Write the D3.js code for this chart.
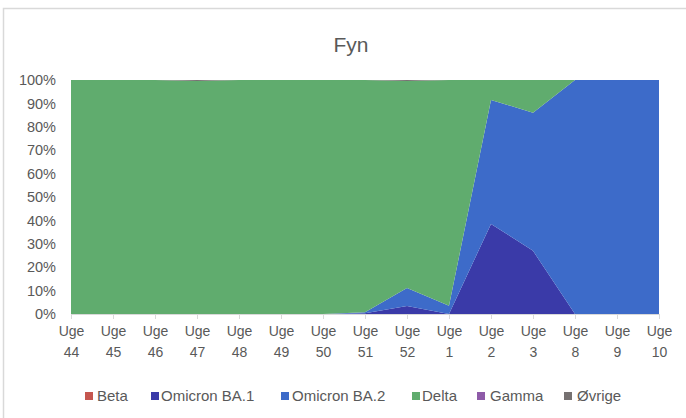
<!DOCTYPE html>
<html>
<head>
<meta charset="utf-8">
<script src="https://cdn.jsdelivr.net/npm/d3@7"></script>
<style>
  body { margin: 0; background: #fff; }
  text { font-family: "Liberation Sans", Arial, sans-serif; fill: #595959; }
</style>
</head>
<body>
<div id="wrapper"></div>
<script>
const weeks = ["44", "45", "46", "47", "48", "49", "50", "51", "52", "1", "2", "3", "8", "9", "10"]
const beta     = [0, 0, 0, 0, 0, 0, 0, 0, 0, 0, 0, 0, 0, 0, 0]
const omiBA1   = [0, 0, 0, 0, 0, 0, 0, 0.3, 3.4, 0, 38.5, 27, 0, 0, 0]
const omiBA2   = [0, 0, 0, 0, 0, 0, 0, 0.5, 7.7, 3.5, 53, 59, 100, 100, 100]
const delta    = [100, 100, 100, 99.6, 100, 100, 100, 99.2, 88.5, 96.5, 8.5, 14, 0, 0, 0]
const gamma    = [0, 0, 0, 0, 0, 0, 0, 0, 0, 0, 0, 0, 0, 0, 0]
const ovrige   = [0, 0, 0, 0.4, 0, 0, 0, 0, 0.4, 0, 0, 0, 0, 0, 0]
const yTicks = [0, 10, 20, 30, 40, 50, 60, 70, 80, 90, 100]

const seriesDefs = [
  { key: "Beta", values: beta, color: "#c5564f" },
  { key: "Omicron BA.1", values: omiBA1, color: "#3a3aa8" },
  { key: "Omicron BA.2", values: omiBA2, color: "#3d6bc9" },
  { key: "Delta", values: delta, color: "#60ac6e" },
  { key: "Gamma", values: gamma, color: "#8e5ba8" },
  { key: "Øvrige", values: ovrige, color: "#767171" },
]

const table = weeks.map((w, i) => {
  const row = { week: w }
  seriesDefs.forEach(s => row[s.key] = s.values[i])
  return row
})

const dimensions = {
  width: 686,
  height: 418,
  margin: { top: 80, right: 27, bottom: 104, left: 71 },
}
dimensions.boundedWidth = dimensions.width - dimensions.margin.left - dimensions.margin.right
dimensions.boundedHeight = dimensions.height - dimensions.margin.top - dimensions.margin.bottom

const svg = d3.select("#wrapper")
  .append("svg")
    .attr("width", dimensions.width)
    .attr("height", dimensions.height)

// chart frame (only the top/left edges fall inside the picture)
svg.append("rect")
  .attr("x", 3.5).attr("y", 8.5)
  .attr("width", 700).attr("height", 430)
  .attr("fill", "none")
  .attr("stroke", "#d9d9d9")
  .attr("stroke-width", 1.5)

svg.append("text")
  .attr("x", 351).attr("y", 52)
  .attr("text-anchor", "middle")
  .style("font-size", "21px")
  .text("Fyn")

const bounds = svg.append("g")
  .attr("transform", `translate(${dimensions.margin.left},${dimensions.margin.top})`)

const xScale = d3.scalePoint()
  .domain(weeks)
  .range([0, dimensions.boundedWidth])

const yScale = d3.scaleLinear()
  .domain([0, 100])
  .range([dimensions.boundedHeight, 0])

const stacked = d3.stack().keys(seriesDefs.map(s => s.key))(table)

const area = d3.area()
  .x(d => xScale(d.data.week))
  .y0(d => yScale(d[0]))
  .y1(d => yScale(d[1]))

bounds.selectAll("path.layer")
  .data(stacked)
  .join("path")
    .attr("class", "layer")
    .attr("d", area)
    .attr("fill", (d, i) => seriesDefs[i].color)

// y axis labels
const yAxis = d3.axisLeft(yScale)
  .tickValues(yTicks)
  .tickFormat(d => d + "%")
  .tickSize(0)
  .tickPadding(15)
const yAxisG = bounds.append("g").call(yAxis)
yAxisG.select(".domain").remove()
yAxisG.selectAll("text").style("font-size", "14.5px").attr("fill", "#595959")

// x axis
const xAxis = d3.axisBottom(xScale)
  .tickSize(5)
  .tickSizeOuter(0)
  .tickFormat("")
const xAxisG = bounds.append("g")
  .attr("transform", `translate(0,${dimensions.boundedHeight})`)
  .call(xAxis)
xAxisG.select(".domain").attr("stroke", "#d9d9d9")
xAxisG.selectAll(".tick line").attr("stroke", "#d9d9d9")
xAxisG.selectAll(".tick")
  .append("text")
    .attr("text-anchor", "middle")
    .style("font-size", "14px")
    .attr("fill", "#595959")
    .each(function(d) {
      const t = d3.select(this)
      t.append("tspan").attr("x", 0).attr("y", 22).text("Uge")
      t.append("tspan").attr("x", 0).attr("y", 43).text(d)
    })

// legend
const legendSq = [85, 151, 281, 412, 477, 564]
const legendTx = [97, 161, 292, 422, 490, 577]
const legend = svg.append("g")
legend.selectAll("rect")
  .data(seriesDefs)
  .join("rect")
    .attr("x", (d, i) => legendSq[i]).attr("y", 392)
    .attr("width", 8).attr("height", 8)
    .attr("fill", d => d.color)
legend.selectAll("text")
  .data(seriesDefs)
  .join("text")
    .attr("x", (d, i) => legendTx[i]).attr("y", 401)
    .style("font-size", "15px")
    .text(d => d.key)
</script>
</body>
</html>
